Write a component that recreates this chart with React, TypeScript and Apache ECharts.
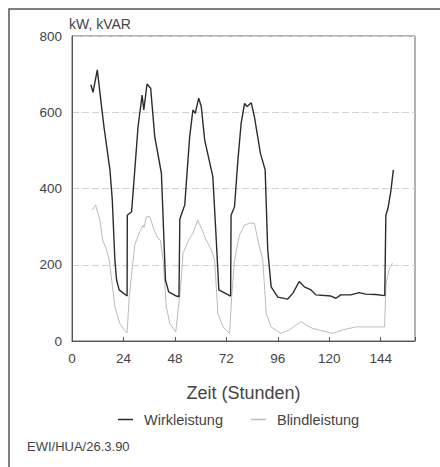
import React, { useEffect, useRef } from "react";
import * as echarts from "echarts";

const xTicks = [0, 24, 48, 72, 96, 120, 144];
const yTicks = [0, 200, 400, 600, 800];
const seriesNames = ["Wirkleistung", "Blindleistung"];

const wirkHours = [8.8, 9.8, 11.8, 13.8, 15, 17.7, 18.8, 20, 20.8, 22, 25.7, 25.8, 27.8, 29.3, 30.8, 32.7, 33.5, 35, 36.7, 38.6, 41.7, 43.6, 45.1, 48.7, 49.9, 50.3, 52.6, 54.1, 54.9, 56.4, 57.5, 59.1, 60.3, 61.9, 65.7, 67.3, 68.5, 74, 74.2, 75.8, 77.4, 78.9, 80.5, 81.7, 83.6, 85.1, 87.9, 90.1, 91.3, 92.9, 96, 100.6, 103, 106, 108.4, 111.5, 113.8, 120.8, 123.1, 125.4, 130, 134, 137, 141.7, 145.9, 146.4, 147.4, 148.7, 149.9];
const wirkValues = [672, 652, 711, 614, 558, 449, 370, 212, 160, 134, 118, 330, 339, 449, 562, 645, 606, 674, 663, 536, 440, 160, 129, 118, 116, 320, 357, 475, 536, 606, 597, 637, 615, 527, 431, 265, 134, 118, 330, 352, 475, 571, 623, 615, 625, 588, 492, 449, 239, 142, 115, 110, 125, 156, 142, 134, 121, 118, 112, 121, 121, 127, 123, 122, 119, 330, 348, 392, 449];

const blindHours = [9.6, 11, 13, 14.3, 16.1, 17.4, 18.9, 20, 22.3, 25.1, 25.7, 26.7, 29.3, 31.6, 33.2, 33.6, 34.7, 36.3, 38.6, 40.1, 41.2, 42.5, 44, 45.6, 48.4, 48.7, 50.7, 51.8, 54.1, 56.4, 58.7, 60.3, 62.6, 65, 66.5, 68.1, 70.4, 73.5, 74.6, 75.8, 78.1, 80.5, 82.8, 85.1, 86.7, 89, 90.6, 92.9, 97.5, 101.4, 104.5, 106.8, 109.1, 112.2, 115.3, 121.5, 126.2, 132.4, 138.6, 145.8, 146.5, 148, 149.5];
const blindValues = [344, 357, 317, 265, 239, 212, 142, 90, 46, 24, 22, 116, 252, 287, 304, 298, 326, 326, 287, 269, 265, 212, 90, 46, 24, 24, 142, 230, 261, 283, 317, 296, 265, 239, 212, 72, 37, 20, 125, 212, 278, 304, 309, 309, 265, 212, 72, 37, 20, 29, 42, 51, 42, 33, 29, 20, 29, 37, 37, 37, 150, 190, 205];

const zip = (xs: number[], ys: number[]) => xs.map((x, i) => [x, ys[i]]);

const FONT = "Liberation Sans, Arial, sans-serif";
const LINE_ICON = "path://M0,0 L100,0 L100,10 L0,10 Z";

export default function App() {
  const ref = useRef<HTMLDivElement>(null);
  useEffect(() => {
    if (!ref.current) return;
    const chart = echarts.init(ref.current, undefined, { renderer: "svg" });
    chart.setOption({
      animation: false,
      backgroundColor: "#ffffff",
      textStyle: { fontFamily: FONT },
      graphic: [
        {
          type: "polyline",
          shape: { points: [[9, 470], [9, 9], [442, 9]] },
          style: { stroke: "#555", lineWidth: 1.5, fill: "none" },
          silent: true,
        },
        {
          type: "text",
          left: 27,
          top: 440,
          style: { text: "EWI/HUA/26.3.90", fontSize: 13, fill: "#444", fontFamily: FONT },
        },
      ],
      legend: {
        left: 113,
        top: 407,
        itemWidth: 25,
        itemHeight: 1.5,
        itemGap: 28,
        icon: LINE_ICON,
        data: seriesNames,
        textStyle: { fontSize: 14.5, color: "#444", fontFamily: FONT, padding: [0, 0, 0, 1] },
      },
      grid: {
        left: 72,
        top: 36,
        right: 25,
        bottom: 126,
        show: true,
        borderColor: "#666",
        borderWidth: 1,
        containLabel: false,
      },
      xAxis: {
        type: "value",
        min: 0,
        max: 160,
        interval: 24,
        name: "Zeit (Stunden)",
        nameLocation: "middle",
        nameGap: 43,
        nameTextStyle: { fontSize: 18, color: "#444", fontFamily: FONT },
        axisLine: { show: true, lineStyle: { color: "#555", width: 1 } },
        axisTick: { show: true, inside: true, length: 4, lineStyle: { color: "#555" } },
        axisLabel: {
          fontSize: 13.5,
          color: "#444",
          margin: 10,
          formatter: (v: number) => (xTicks.includes(v) ? String(v) : ""),
        },
        splitLine: { show: false },
      },
      yAxis: {
        type: "value",
        min: 0,
        max: 800,
        interval: 200,
        name: "kW, kVAR",
        nameLocation: "end",
        nameGap: 5,
        nameTextStyle: { fontSize: 14, color: "#444", align: "left", padding: [0, 0, 0, -3], fontFamily: FONT },
        axisLine: { show: true, lineStyle: { color: "#555", width: 1 } },
        axisTick: { show: false },
        axisLabel: {
          fontSize: 13.5,
          color: "#444",
          margin: 10,
          formatter: (v: number) => (yTicks.includes(v) ? String(v) : ""),
        },
        splitLine: { show: true, lineStyle: { color: "#d2d2d2", type: [7, 3], width: 1 } },
      },
      series: [
        {
          name: seriesNames[0],
          type: "line",
          data: zip(wirkHours, wirkValues),
          symbol: "none",
          lineStyle: { color: "#2b2b2b", width: 1.4 },
          itemStyle: { color: "#2b2b2b" },
          z: 3,
        },
        {
          name: seriesNames[1],
          type: "line",
          data: zip(blindHours, blindValues),
          symbol: "none",
          lineStyle: { color: "#bcbcbc", width: 1 },
          itemStyle: { color: "#bcbcbc" },
          z: 2,
        },
      ],
    });
    return () => chart.dispose();
  }, []);
  return (
    <div
      ref={ref}
      style={{ position: "absolute", left: 0, top: 0, width: 440, height: 467, background: "#fff" }}
    />
  );
}
